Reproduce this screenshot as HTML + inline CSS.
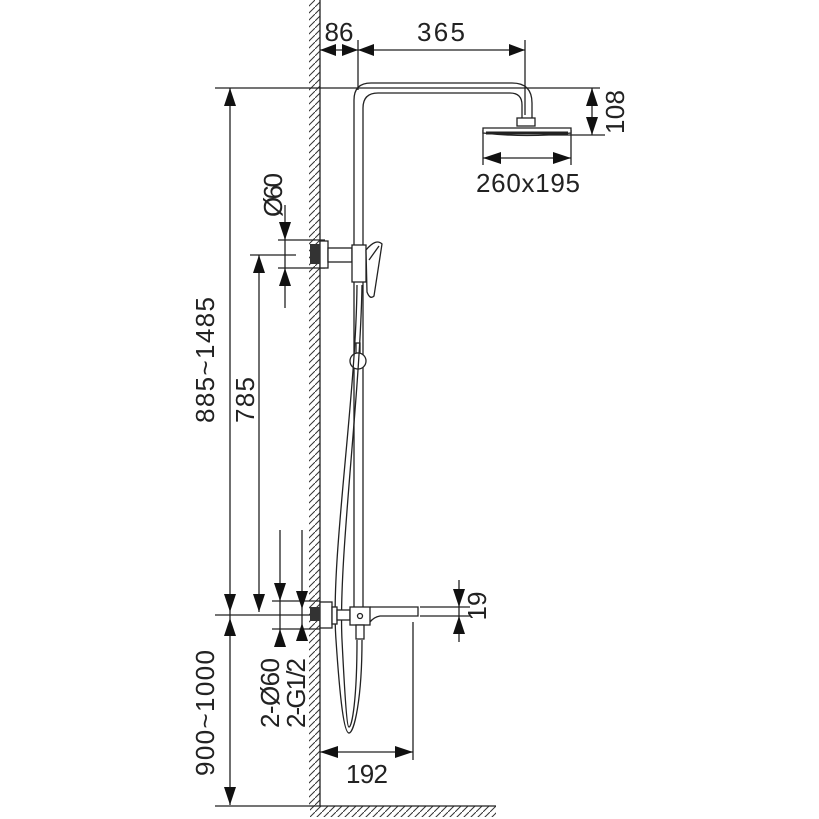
<!DOCTYPE html>
<html><head><meta charset="utf-8"><style>
html,body{margin:0;padding:0;background:#fff;}
svg{display:block;}
text{font-family:"Liberation Sans","DejaVu Sans",sans-serif;fill:#222;}
</style></head><body>
<svg width="819" height="819" viewBox="0 0 819 819" xmlns="http://www.w3.org/2000/svg">
<defs>
<pattern id="h" width="7" height="7" patternUnits="userSpaceOnUse">
<line x1="0" y1="7" x2="7" y2="0" stroke="#333" stroke-width="1"/>
</pattern>
</defs>
<g stroke="#222" stroke-width="1.3" fill="none">
<rect x="309" y="0" width="11" height="806" fill="url(#h)" stroke="none"/>
<line x1="320" y1="0" x2="320" y2="806"/>
<rect x="310" y="806" width="186" height="11" fill="url(#h)" stroke="none"/>
<line x1="320" y1="806" x2="496" y2="806"/>
<line x1="215" y1="88" x2="600" y2="88"/>
<line x1="358" y1="40" x2="358" y2="90"/>
<line x1="525" y1="40" x2="525" y2="115"/>
<line x1="320" y1="50" x2="525" y2="50"/>
<line x1="540" y1="135" x2="605" y2="135"/>
<line x1="592" y1="88" x2="592" y2="135"/>
<line x1="483" y1="130" x2="483" y2="165"/>
<line x1="571" y1="130" x2="571" y2="165"/>
<line x1="483" y1="158" x2="571" y2="158"/>
<line x1="230" y1="88" x2="230" y2="805"/>
<line x1="215" y1="615" x2="320" y2="615"/>
<line x1="215" y1="806" x2="320" y2="806"/>
<line x1="259" y1="255" x2="259" y2="612"/>
<line x1="250" y1="255" x2="296" y2="255"/>
<line x1="278" y1="240" x2="325" y2="240"/>
<line x1="278" y1="268" x2="325" y2="268"/>
<line x1="285" y1="205" x2="285" y2="308"/>
<line x1="280" y1="530" x2="280" y2="645"/>
<line x1="302" y1="530" x2="302" y2="640"/>
<line x1="272" y1="601" x2="320" y2="601"/>
<line x1="272" y1="629" x2="320" y2="629"/>
<line x1="420" y1="607" x2="470" y2="607"/>
<line x1="420" y1="616" x2="470" y2="616"/>
<line x1="459" y1="580" x2="459" y2="642"/>
<line x1="413" y1="622" x2="413" y2="760"/>
<line x1="320" y1="752" x2="413" y2="752"/>
<path d="M354 610 V100 Q354 83 371 83 H512 Q532 83 532 103 V118"/>
<path d="M363 610 V108 Q363 93 378 93 H510 Q522 93 522 105 V118"/>
<rect x="517" y="118" width="18" height="8" fill="#fff"/>
<path d="M483 128 H571 V133 Q527 138 483 133 Z" fill="#fff"/>
<line x1="486" y1="133" x2="568" y2="133" stroke-width="3"/>
<rect x="320" y="241" width="8" height="27" fill="#fff"/>
<rect x="310" y="244" width="10" height="20" fill="#333" stroke="none"/>
<rect x="328" y="248" width="24" height="14" fill="#fff"/>
<rect x="352" y="245" width="14" height="37" fill="#fff"/>
<path d="M366 250 Q376 238 382 244 L374 296 Q370 300 367 292 Z" fill="#fff"/>
<path d="M369 260 L379 246"/>
<rect x="356" y="343" width="4" height="10"/>
<circle cx="358" cy="361" r="8" fill="#fff"/>
<path d="M357 285 C356 400 330 560 336 640 C340 700 344 733 349 733 C354 733 362 700 362 640"/>
<path d="M362 285 C360 400 338 560 342 640 C345 700 347 727 349 727 C352 727 357 700 357 640"/>
<rect x="320" y="602" width="12" height="26" fill="#fff"/>
<rect x="310" y="607" width="10" height="14" fill="#333" stroke="none"/>
<rect x="332" y="607" width="5" height="17" fill="#fff"/>
<rect x="337" y="610" width="13" height="10" fill="#fff"/>
<rect x="350" y="607" width="20" height="18" fill="#fff"/>
<circle cx="360" cy="616" r="2.5"/>
<path d="M370 607 H418 V616 H380 Q374 617 370 622"/>
<rect x="356" y="625" width="8" height="14" fill="#fff"/>
</g>
<g fill="#111">
<path d="M320 50 l16 -6 v12z"/><path d="M358 50 l-16 -6 v12z"/>
<path d="M358 50 l16 -6 v12z"/><path d="M525 50 l-16 -6 v12z"/>
<path d="M592 88 l-6 18 h12z"/><path d="M592 135 l-6 -18 h12z"/>
<path d="M483 158 l18 -6 v12z"/><path d="M571 158 l-18 -6 v12z"/>
<path d="M230 88 l-6 18 h12z"/><path d="M230 612 l-6 -18 h12z"/>
<path d="M230 618 l-6 18 h12z"/><path d="M230 805 l-6 -18 h12z"/>
<path d="M259 255 l-6 18 h12z"/><path d="M259 612 l-6 -18 h12z"/>
<path d="M285 240 l-6 -18 h12z"/><path d="M285 268 l-6 18 h12z"/>
<path d="M280 601 l-6 -18 h12z"/><path d="M280 629 l-6 18 h12z"/>
<path d="M302 609 l-6 -18 h12z"/><path d="M302 623 l-6 18 h12z"/>
<path d="M459 607 l-6 -18 h12z"/><path d="M459 616 l-6 18 h12z"/>
<path d="M320 752 l18 -6 v12z"/><path d="M413 752 l-18 -6 v12z"/>
</g>
<g font-size="26">
<text x="339" y="41" text-anchor="middle">86</text>
<text x="441" y="41" text-anchor="middle" textLength="48">365</text>
<text x="528" y="192" text-anchor="middle" textLength="104">260x195</text>
<text x="367" y="783" text-anchor="middle" textLength="42">192</text>
<text transform="translate(624,112) rotate(-90)" text-anchor="middle" textLength="44">108</text>
<text transform="translate(486,606) rotate(-90)" text-anchor="middle">19</text>
<text transform="translate(214,360) rotate(-90)" text-anchor="middle" textLength="126">885~1485</text>
<text transform="translate(254,400) rotate(-90)" text-anchor="middle" textLength="46">785</text>
<text transform="translate(214,713) rotate(-90)" text-anchor="middle" textLength="126">900~1000</text>
<text transform="translate(282,195) rotate(-90)" text-anchor="middle" textLength="44">Ø60</text>
<text transform="translate(279,693) rotate(-90)" text-anchor="middle" textLength="70">2-Ø60</text>
<text transform="translate(305,693) rotate(-90)" text-anchor="middle" textLength="70">2-G1/2</text>
</g>
</svg>
</body></html>
